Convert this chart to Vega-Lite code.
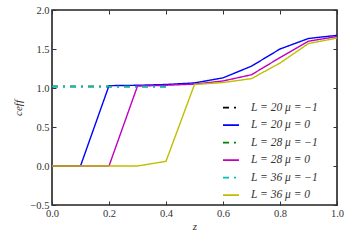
{
  "$schema": "https://vega.github.io/schema/vega-lite/v6.json",
  "width": 285,
  "height": 195,
  "autosize": {"type": "none"},
  "padding": {"left": 52, "top": 10, "right": 13, "bottom": 45},
  "config": {
    "view": {"stroke": "#222222", "strokeWidth": 1.6},
    "font": "Liberation Serif",
    "axis": {
      "grid": false,
      "domain": false,
      "tickColor": "#333333",
      "tickSize": -4,
      "tickWidth": 1,
      "labelFont": "Liberation Serif",
      "labelFontSize": 10.5,
      "labelColor": "#333333",
      "titleFont": "Liberation Serif",
      "titleFontWeight": "normal",
      "titleFontStyle": "italic",
      "titleFontSize": 11,
      "titleColor": "#333333"
    }
  },
  "data": {
    "values": [
      {"series": "L = 20 μ = −1", "z": 0.0, "c": 1.02},
      {"series": "L = 20 μ = −1", "z": 0.1, "c": 1.02},
      {"series": "L = 20 μ = −1", "z": 0.2, "c": 1.02},
      {"series": "L = 20 μ = −1", "z": 0.3, "c": 1.02},
      {"series": "L = 20 μ = −1", "z": 0.4, "c": 1.02},
      {"series": "L = 20 μ = 0", "z": 0.0, "c": 0.0},
      {"series": "L = 20 μ = 0", "z": 0.1, "c": 0.0},
      {"series": "L = 20 μ = 0", "z": 0.2, "c": 1.03},
      {"series": "L = 20 μ = 0", "z": 0.3, "c": 1.035},
      {"series": "L = 20 μ = 0", "z": 0.4, "c": 1.045},
      {"series": "L = 20 μ = 0", "z": 0.5, "c": 1.065},
      {"series": "L = 20 μ = 0", "z": 0.6, "c": 1.13},
      {"series": "L = 20 μ = 0", "z": 0.7, "c": 1.28},
      {"series": "L = 20 μ = 0", "z": 0.8, "c": 1.5},
      {"series": "L = 20 μ = 0", "z": 0.9, "c": 1.635},
      {"series": "L = 20 μ = 0", "z": 1.0, "c": 1.675},
      {"series": "L = 28 μ = −1", "z": 0.0, "c": 1.02},
      {"series": "L = 28 μ = −1", "z": 0.1, "c": 1.02},
      {"series": "L = 28 μ = −1", "z": 0.2, "c": 1.02},
      {"series": "L = 28 μ = −1", "z": 0.3, "c": 1.02},
      {"series": "L = 28 μ = −1", "z": 0.4, "c": 1.02},
      {"series": "L = 28 μ = 0", "z": 0.0, "c": 0.0},
      {"series": "L = 28 μ = 0", "z": 0.1, "c": 0.0},
      {"series": "L = 28 μ = 0", "z": 0.2, "c": 0.0},
      {"series": "L = 28 μ = 0", "z": 0.3, "c": 1.025},
      {"series": "L = 28 μ = 0", "z": 0.4, "c": 1.035},
      {"series": "L = 28 μ = 0", "z": 0.5, "c": 1.05},
      {"series": "L = 28 μ = 0", "z": 0.6, "c": 1.09},
      {"series": "L = 28 μ = 0", "z": 0.7, "c": 1.17},
      {"series": "L = 28 μ = 0", "z": 0.8, "c": 1.39},
      {"series": "L = 28 μ = 0", "z": 0.9, "c": 1.6},
      {"series": "L = 28 μ = 0", "z": 1.0, "c": 1.66},
      {"series": "L = 36 μ = −1", "z": 0.0, "c": 1.02},
      {"series": "L = 36 μ = −1", "z": 0.1, "c": 1.02},
      {"series": "L = 36 μ = −1", "z": 0.2, "c": 1.02},
      {"series": "L = 36 μ = −1", "z": 0.3, "c": 1.02},
      {"series": "L = 36 μ = −1", "z": 0.4, "c": 1.02},
      {"series": "L = 36 μ = 0", "z": 0.0, "c": 0.0},
      {"series": "L = 36 μ = 0", "z": 0.1, "c": 0.0},
      {"series": "L = 36 μ = 0", "z": 0.2, "c": 0.0},
      {"series": "L = 36 μ = 0", "z": 0.3, "c": 0.0},
      {"series": "L = 36 μ = 0", "z": 0.4, "c": 0.06},
      {"series": "L = 36 μ = 0", "z": 0.5, "c": 1.045},
      {"series": "L = 36 μ = 0", "z": 0.6, "c": 1.07},
      {"series": "L = 36 μ = 0", "z": 0.7, "c": 1.12},
      {"series": "L = 36 μ = 0", "z": 0.8, "c": 1.32},
      {"series": "L = 36 μ = 0", "z": 0.9, "c": 1.57},
      {"series": "L = 36 μ = 0", "z": 1.0, "c": 1.64}
    ]
  },
  "layer": [
    {
      "mark": {"type": "line", "strokeWidth": 1.4, "clip": true},
      "encoding": {
        "x": {
          "field": "z", "type": "quantitative",
          "scale": {"domain": [0, 1], "nice": false, "zero": false},
          "axis": {"title": "z", "values": [0, 0.2, 0.4, 0.6, 0.8, 1.0], "format": ".1f", "labelPadding": 7, "titlePadding": 2, "labelFlush": false}
        },
        "y": {
          "field": "c", "type": "quantitative",
          "scale": {"domain": [-0.5, 2.0], "nice": false, "zero": false},
          "axis": {"title": "ceff", "values": [-0.5, 0, 0.5, 1.0, 1.5, 2.0], "format": ".1f", "labelPadding": 7, "titlePadding": 6}
        },
        "color": {
          "field": "series", "type": "nominal",
          "scale": {
            "domain": ["L = 20 μ = −1", "L = 20 μ = 0", "L = 28 μ = −1", "L = 28 μ = 0", "L = 36 μ = −1", "L = 36 μ = 0"],
            "range": ["#000000", "#0000ff", "#008000", "#bf00bf", "#00bfbf", "#bfbf00"]
          },
          "legend": {
            "title": null,
            "orient": "none",
            "legendX": 170,
            "legendY": 92,
            "symbolType": "stroke",
            "symbolSize": 256,
            "symbolStrokeWidth": 1.6,
            "labelFont": "Liberation Serif",
            "labelFontStyle": "italic",
            "labelFontSize": 11.5,
            "labelColor": "#333333",
            "labelOffset": 11,
            "rowPadding": 4.5,
            "clipHeight": 11.3
          }
        },
        "strokeDash": {
          "field": "series", "type": "nominal",
          "scale": {
            "domain": ["L = 20 μ = −1", "L = 20 μ = 0", "L = 28 μ = −1", "L = 28 μ = 0", "L = 36 μ = −1", "L = 36 μ = 0"],
            "range": [[6, 5, 2, 5], [1, 0], [6, 5, 2, 5], [1, 0], [6, 5, 2, 5], [1, 0]]
          },
          "legend": null
        }
      }
    },
    {
      "mark": {"type": "line", "opacity": 0},
      "encoding": {
        "x": {
          "field": "z", "type": "quantitative",
          "axis": {"orient": "top", "title": null, "labels": false, "values": [0, 0.2, 0.4, 0.6, 0.8, 1.0]}
        },
        "y": {
          "field": "c", "type": "quantitative",
          "axis": {"orient": "right", "title": null, "labels": false, "values": [-0.5, 0, 0.5, 1.0, 1.5, 2.0]}
        },
        "detail": {"field": "series"}
      }
    }
  ],
  "resolve": {"axis": {"x": "independent", "y": "independent"}}
}
